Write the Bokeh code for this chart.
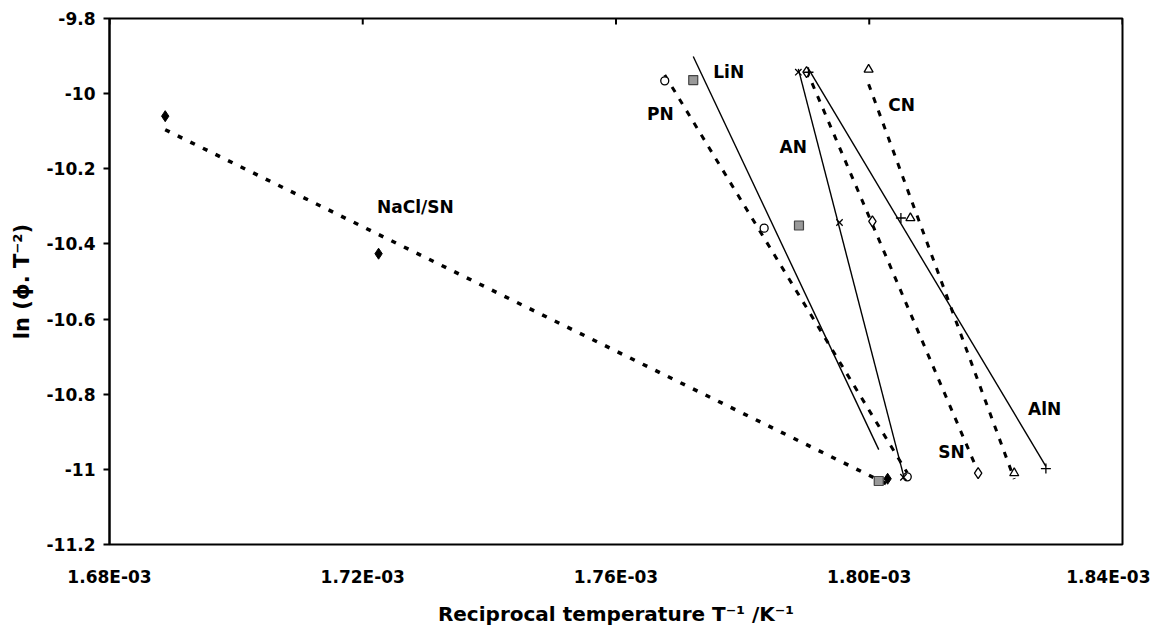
import numpy as np
from bokeh.plotting import figure
from bokeh.models import Range1d, FixedTicker, CustomJSTickFormatter, Label
from bokeh.embed import file_html
from bokeh.resources import INLINE

# ---- data ----
nacl_x = [1.6888e-3, 1.7225e-3, 1.8029e-3]
nacl_y = [-10.060, -10.426, -11.025]

pn_x = [1.7677e-3, 1.7834e-3, 1.8060e-3]
pn_y = [-9.966, -10.358, -11.020]

lin_x = [1.7722e-3, 1.7889e-3, 1.8015e-3]
lin_y = [-9.964, -10.351, -11.031]

an_x = [1.7888e-3, 1.7953e-3, 1.8054e-3]
an_y = [-9.943, -10.343, -11.021]

sn_x = [1.7901e-3, 1.8005e-3, 1.8172e-3]
sn_y = [-9.943, -10.340, -11.010]

cn_x = [1.7999e-3, 1.8065e-3, 1.8229e-3]
cn_y = [-9.936, -10.331, -11.010]

aln_x = [1.7904e-3, 1.8050e-3, 1.8279e-3]
aln_y = [-9.943, -10.331, -10.998]

x_ticks = [1.68e-3, 1.72e-3, 1.76e-3, 1.80e-3, 1.84e-3]
y_ticks = [-11.2, -11.0, -10.8, -10.6, -10.4, -10.2, -10.0, -9.8]

label_names = ["NaCl/SN", "PN", "LiN", "AN", "CN", "SN", "AlN"]
label_x = [1.7283e-3, 1.7670e-3, 1.7778e-3, 1.7880e-3, 1.8051e-3, 1.8130e-3, 1.8277e-3]
label_y = [-10.301, -10.054, -9.943, -10.142, -10.030, -10.955, -10.840]

FONT = "DejaVu Sans"

p = figure(width=1150, height=628,
           x_range=Range1d(x_ticks[0], x_ticks[-1]), y_range=Range1d(y_ticks[0], y_ticks[-1]),
           output_backend="svg", toolbar_location=None,
           min_border_left=109, min_border_right=28,
           min_border_top=18, min_border_bottom=83)
p.xgrid.visible = False
p.ygrid.visible = False
p.outline_line_color = "black"
p.outline_line_width = 2
p.background_fill_color = "white"
p.border_fill_color = "white"

# axes
xa = p.xaxis[0]
xa.ticker = FixedTicker(ticks=x_ticks)
xa.formatter = CustomJSTickFormatter(code="return tick.toExponential(2).toUpperCase().replace('E-3','E-03');")
xa.major_tick_out = 0
xa.major_tick_in = 0
xa.minor_tick_line_color = None
xa.axis_line_color = None
xa.major_label_standoff = 22
xa.major_label_text_font = FONT
xa.major_label_text_font_style = "bold"
xa.major_label_text_font_size = "17px"
xa.major_label_text_color = "black"
xa.axis_label = "Reciprocal temperature T\u207b\u00b9 /K\u207b\u00b9"
xa.axis_label_text_font = FONT
xa.axis_label_text_font_style = "bold"
xa.axis_label_text_font_size = "20px"
xa.axis_label_text_color = "black"
xa.axis_label_standoff = 12

ya = p.yaxis[0]
ya.ticker = FixedTicker(ticks=y_ticks)
ya.formatter = CustomJSTickFormatter(code="return (Math.round(tick*10)/10).toString();")
ya.major_tick_out = 6
ya.major_tick_in = 0
ya.major_tick_line_width = 2
ya.minor_tick_line_color = None
ya.axis_line_width = 2
ya.major_label_standoff = 8
ya.major_label_text_font = FONT
ya.major_label_text_font_style = "bold"
ya.major_label_text_font_size = "17px"
ya.major_label_text_color = "black"
ya.axis_label = "ln (\u03d5. T\u207b\u00b2)"
ya.axis_label_text_font = FONT
ya.axis_label_text_font_style = "bold"
ya.axis_label_text_font_size = "21px"
ya.axis_label_text_color = "black"
ya.axis_label_standoff = 10

# short tick marks hanging from the top border at each x tick
tick_len = 0.016
p.segment(x0=x_ticks, y0=[y_ticks[-1]] * len(x_ticks), x1=x_ticks,
          y1=[y_ticks[-1] - tick_len] * len(x_ticks), line_color="black", line_width=2)

# trendlines (least squares over each series' x range)
series = [
    (nacl_x, nacl_y, "dot"),
    (pn_x, pn_y, "dash"),
    (lin_x, lin_y, "solid"),
    (an_x, an_y, "solid"),
    (sn_x, sn_y, "dash"),
    (cn_x, cn_y, "dash"),
    (aln_x, aln_y, "solid"),
]
for xs, ys, style in series:
    b, a = np.polyfit(np.array(xs), np.array(ys), 1)
    lx = np.array([min(xs), max(xs)])
    ly = a + b * lx
    if style == "solid":
        p.line(lx, ly, line_color="black", line_width=1.4)
    elif style == "dash":
        p.line(lx, ly, line_color="black", line_width=3, line_dash="6 8")
    else:
        p.line(lx, ly, line_color="black", line_width=3.5, line_dash="5 9")

# markers
p.scatter(nacl_x, nacl_y, marker="diamond", size=11, fill_color="black", line_color="black")
p.scatter(pn_x, pn_y, marker="circle", size=8, fill_color="white", line_color="black", line_width=1.3)
p.scatter(lin_x, lin_y, marker="square", size=9, fill_color="#999999", line_color="#444444", line_width=1.2)
p.scatter(an_x, an_y, marker="x", size=9, line_color="black", line_width=1.3)
p.scatter(sn_x, sn_y, marker="diamond", size=11, fill_color="white", line_color="black", line_width=1.3)
p.scatter(cn_x, cn_y, marker="triangle", size=9, fill_color="white", line_color="black", line_width=1.3)
p.scatter(aln_x, aln_y, marker="cross", size=10, line_color="black", line_width=1.3)

for name, lx_, ly_ in zip(label_names, label_x, label_y):
    p.add_layout(Label(x=lx_, y=ly_, text=name, text_align="center", text_baseline="middle",
                       text_font=FONT, text_font_style="bold", text_font_size="17px",
                       text_color="black"))

open("out.html", "w").write(file_html(p, INLINE))
